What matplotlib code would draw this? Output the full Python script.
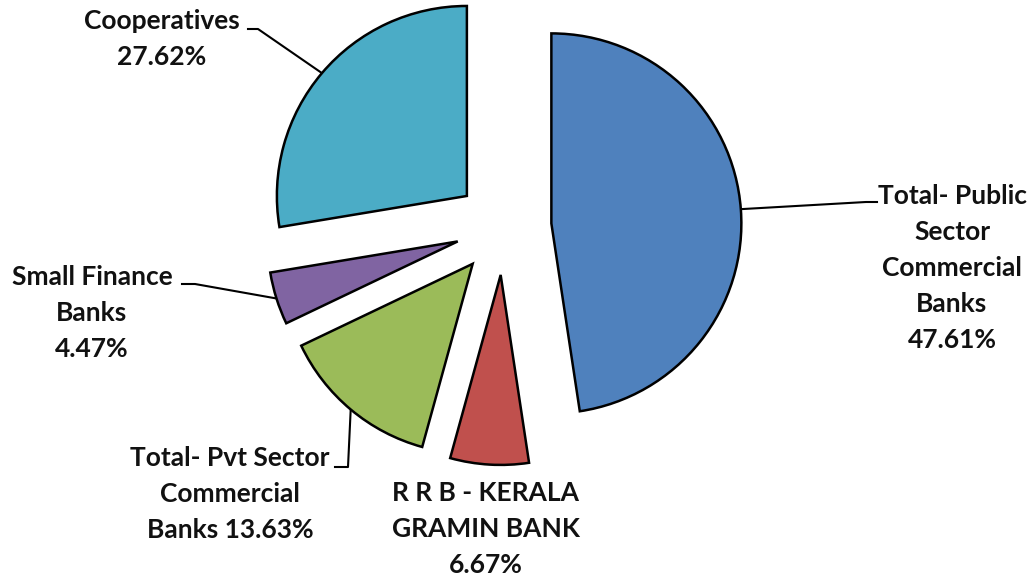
import numpy as np
import matplotlib
matplotlib.use("Agg")
import matplotlib.pyplot as plt

# ── Data ────────────────────────────────────────────────────────────────
names = [
    "Total- Public\nSector\nCommercial\nBanks",
    "R R B - KERALA\nGRAMIN BANK",
    "Total- Pvt Sector\nCommercial\nBanks",
    "Small Finance\nBanks",
    "Cooperatives",
]
shares = [47.61, 6.67, 13.63, 4.47, 27.62]
pct_sep = ["\n", "\n", " ", "\n", "\n"]

# ── Style / layout (figure pixels, y measured upward) ───────────────────
COLORS = ["#4F81BD", "#C0504D", "#9BBB59", "#8064A2", "#4BACC6"]
W, H = 1029, 580
CENTER = (503.5, 353)
RADIUS = 190
EXPLODE = 48
FONT = "Lato"

label_xy = [(952, 312), (486, 51), (230, 86), (92, 267), (162, 541)]
# leader line: text end -> elbow -> arc midpoint of the wedge
leader_pts = [
    [(877, 378), (866, 378)],
    None,
    [(335, 113), (348, 113)],
    [(182, 296), (195, 296)],
    [(248, 551), (258, 551)],
]


def main():
    fig = plt.figure(figsize=(W / 100, H / 100), dpi=100)
    ax = fig.add_axes([0, 0, 1, 1])

    wedges, _ = ax.pie(
        shares, colors=COLORS, startangle=90, counterclock=False,
        center=CENTER, radius=RADIUS, explode=[EXPLODE] * len(shares),
        wedgeprops=dict(edgecolor="black", linewidth=1.8),
    )
    ax.set_xlim(0, W)
    ax.set_ylim(0, H)
    ax.set_aspect("equal")
    ax.axis("off")

    for w, name, v, sep, (lx, ly), pts in zip(wedges, names, shares, pct_sep,
                                             label_xy, leader_pts):
        ax.text(lx, ly, f"{name}{sep}{v:.2f}%", ha="center", va="center",
                fontsize=19, fontweight="bold", family=FONT, color="#111111",
                linespacing=1.6)
        if pts is None:
            continue
        mid = np.deg2rad((w.theta1 + w.theta2) / 2)
        ax_pt = (w.center[0] + w.r * np.cos(mid), w.center[1] + w.r * np.sin(mid))
        xs = [p[0] for p in pts] + [ax_pt[0]]
        ys = [p[1] for p in pts] + [ax_pt[1]]
        ax.plot(xs, ys, color="black", linewidth=1.5, zorder=0)

    fig.savefig("out.png", dpi=100, facecolor="white")
    plt.close(fig)


if __name__ == "__main__":
    main()
